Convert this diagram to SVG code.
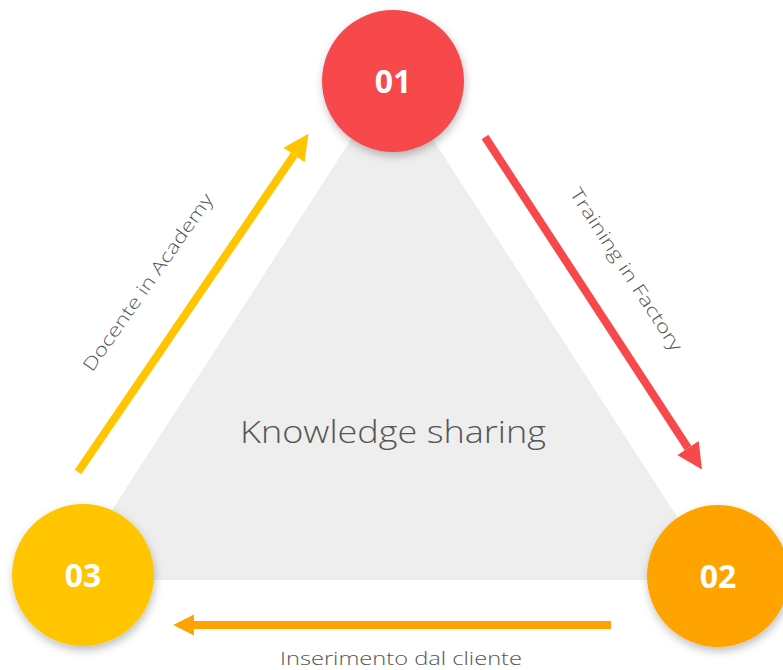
<svg xmlns="http://www.w3.org/2000/svg" width="783" height="670" viewBox="0 0 783 670">
<defs>
<style>
.lbl{font-family:"Open Sans","Lato","Liberation Sans",sans-serif;font-weight:300;fill:#555555}
.num{font-family:"Open Sans","Liberation Sans",sans-serif;font-weight:700;fill:#ffffff;font-size:32px;text-anchor:middle}
.arrow{stroke-width:8;fill:none}
</style>
<filter id="sh" x="-30%" y="-30%" width="160%" height="160%">
<feDropShadow dx="1" dy="4" stdDeviation="4" flood-color="#000" flood-opacity="0.25"/>
</filter>
<marker id="mRed" viewBox="0 0 10 10" refX="0" refY="5" markerWidth="3.2" markerHeight="3.6" orient="auto" markerUnits="strokeWidth"><path d="M0,0 L10,5 L0,10 z" fill="#F7494B"/></marker>
<marker id="mOrange" viewBox="0 0 10 10" refX="0" refY="5" markerWidth="2.6" markerHeight="3.8" orient="auto" markerUnits="strokeWidth"><path d="M0,0 L10,5 L0,10 z" fill="#FEA301"/></marker>
<marker id="mYellow" viewBox="0 0 10 10" refX="0" refY="5" markerWidth="3.2" markerHeight="3.6" orient="auto" markerUnits="strokeWidth"><path d="M0,0 L10,5 L0,10 z" fill="#FFC600"/></marker>
</defs>
<rect width="783" height="670" fill="#ffffff"/>
<g id="triangle">
<polygon points="392,76 67,580 718,580" fill="#EEEEEE"/>
<text class="lbl" x="393" y="443" font-size="32" text-anchor="middle" textLength="306" lengthAdjust="spacingAndGlyphs">Knowledge sharing</text>
</g>
<g id="connectors">
<line class="arrow" stroke="#F7494B" x1="485" y1="137" x2="688" y2="448" marker-end="url(#mRed)"/>
<line class="arrow" stroke="#FEA301" x1="611" y1="625" x2="194" y2="625" marker-end="url(#mOrange)"/>
<line class="arrow" stroke="#FFC600" x1="78" y1="472" x2="294" y2="155" marker-end="url(#mYellow)"/>
<text class="lbl" font-size="18" text-anchor="middle" transform="translate(621,273) rotate(57)" textLength="190" lengthAdjust="spacingAndGlyphs">Training in Factory</text>
<text class="lbl" font-size="19" x="401" y="665" text-anchor="middle" textLength="242" lengthAdjust="spacingAndGlyphs">Inserimento dal cliente</text>
<text class="lbl" font-size="18" text-anchor="middle" transform="translate(153,286) rotate(-55)" textLength="212" lengthAdjust="spacingAndGlyphs">Docente in Academy</text>
</g>
<g id="node01">
<circle cx="393" cy="81" r="71" fill="#F7494B" filter="url(#sh)"/>
<text class="num" x="393" y="93">01</text>
</g>
<g id="node02">
<circle cx="718" cy="576" r="71" fill="#FEA301" filter="url(#sh)"/>
<text class="num" x="718" y="588">02</text>
</g>
<g id="node03">
<circle cx="83" cy="575" r="71" fill="#FFC600" filter="url(#sh)"/>
<text class="num" x="83" y="587">03</text>
</g>
</svg>
